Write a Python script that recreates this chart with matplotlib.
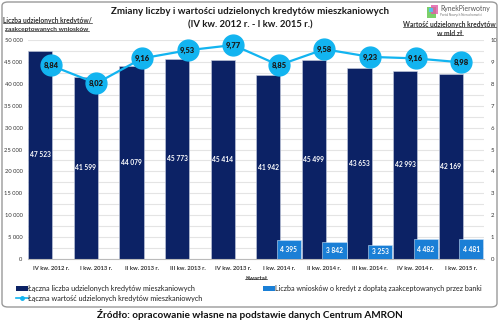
import matplotlib
matplotlib.use("Agg")
import matplotlib.pyplot as plt
from matplotlib.patches import FancyBboxPatch, Rectangle
from matplotlib.lines import Line2D
import numpy as np

plt.rcParams["font.family"] = ["Lato", "DejaVu Sans"]

categories = ["IV kw. 2012 r.", "I kw. 2013 r.", "II kw. 2013 r.", "III kw. 2013 r.", "IV kw. 2013 r.",
              "I kw. 2014 r.", "II kw. 2014 r.", "III kw. 2014 r.", "IV kw. 2014 r.", "I kw. 2015 r."]
total_count = [47523, 41599, 44079, 45773, 45414, 41942, 45499, 43653, 42993, 42169]
subsidy_count = [None, None, None, None, None, 4395, 3842, 3253, 4482, 4481]
total_value = [8.84, 8.02, 9.16, 9.53, 9.77, 8.85, 9.58, 9.23, 9.16, 8.98]

NAVY = "#0c2265"
BLUE = "#1a7fd6"
LINE = "#12b4f0"
W, H = 500, 322

def fmt(v):
    return f"{v:,}".replace(",", " ")

fig = plt.figure(figsize=(5.0, 3.22), dpi=100)
fig.patch.set_facecolor("white")
renderer = fig.canvas.get_renderer()

def fit_size(s, target_px, **kw):
    t = fig.text(0, 0, s, fontsize=10, **kw)
    bb = t.get_window_extent(renderer)
    t.remove()
    return 10 * target_px / bb.width

def ftext(xp, yp, s, width_px, ha="left", **kw):
    fs = fit_size(s, width_px, **kw)
    return fig.text(xp / W, 1 - yp / H, s, ha=ha, va="center", fontsize=fs, **kw)

# outer rounded border
border = FancyBboxPatch((2 / W, 1 - 307 / H), 495 / W, 305 / H, boxstyle="round,pad=0,rounding_size=0.012",
                        transform=fig.transFigure, fill=False, edgecolor="#9a9a9a", linewidth=1.0)
fig.patches.append(border)

ax = fig.add_axes([28 / W, 1 - 259 / H, 456 / W, 219 / H])
x = np.arange(len(categories))
w = 0.53
bar_fs = fit_size(fmt(total_count[0]), 21, fontweight="bold")
ax.bar(x - 0.23, total_count, width=w, color=NAVY, edgecolor="#c8cfe0", linewidth=0.4, zorder=2)
for xi, v in zip(x, total_count):
    ax.text(xi - 0.23, v / 2, fmt(v), ha="center", va="center", color="white",
            fontsize=bar_fs, fontweight="bold", zorder=5)

sx = [xi for xi, v in zip(x, subsidy_count) if v is not None]
sv = [v for v in subsidy_count if v is not None]
ax.bar(np.array(sx) + 0.22, sv, width=w, color=BLUE, edgecolor="#c8e0f5", linewidth=0.4, zorder=3)
for xi, v in zip(sx, sv):
    ax.text(xi + 0.22, v / 2, fmt(v), ha="center", va="center", color="white",
            fontsize=bar_fs, fontweight="bold", zorder=5)

xt_fs = fit_size(categories[0], 37, fontweight="bold")
yt_fs = fit_size("50 000", 18)

ax.set_ylim(0, 50000)
ax.set_xlim(-0.5, len(categories) - 0.5)
yt = np.arange(0, 50001, 5000)
ax.set_yticks(yt)
ax.set_yticklabels([fmt(int(t)) for t in yt], color="#333333")
ax.set_yticks(np.arange(0, 50001, 2500), minor=True)
ax.grid(axis="y", which="both", color="#e4e4e4", linewidth=0.8, zorder=0)
ax.tick_params(axis="y", which="both", length=0, pad=4, labelsize=yt_fs)
ax.set_xticks(x)
ax.set_xticklabels(categories, fontweight="bold", color="#333333")
ax.tick_params(axis="x", length=0, pad=5, labelsize=xt_fs)
for s in ["top", "right", "left"]:
    ax.spines[s].set_visible(False)
ax.spines["bottom"].set_color("#bbbbbb")
ax.set_axisbelow(True)

ax2 = ax.twinx()
ax2.set_ylim(0, 10)
ax2.set_yticks(range(0, 11))
ax2.set_yticklabels([str(t) for t in range(0, 11)], color="#333333")
ax2.tick_params(axis="y", length=0, pad=5, labelsize=yt_fs * 1.05)
for s in ["top", "right", "left", "bottom"]:
    ax2.spines[s].set_visible(False)
ax2.plot(x, total_value, color=LINE, linewidth=1.6, marker="o", markersize=15,
         markerfacecolor=LINE, markeredgecolor=LINE, zorder=4, clip_on=False)
val_fs = fit_size("8,84", 15, fontweight="heavy")
for xi, v in zip(x, total_value):
    ax2.text(xi, v, f"{v:.2f}".replace(".", ","), ha="center", va="center",
             fontsize=val_fs, fontweight="heavy", color="#1a1a1a", zorder=6)

# titles
ftext(250, 12, "Zmiany liczby i wartości udzielonych kredytów mieszkaniowych", 278, ha="center",
      fontweight="bold", color="#1a1a1a")
ftext(250, 25, "(IV kw. 2012 r. - I kw. 2015 r.)", 126, ha="center",
      fontweight="bold", color="#1a1a1a")

under = []
under.append(ftext(3, 21, "Liczba udzielonych kredytów/", 89, fontweight="bold", color="#333333"))
under.append(ftext(47, 29.5, "zaakceptowanych wniosków", 83, ha="center", fontweight="bold", color="#333333"))
under.append(ftext(496, 25, "Wartość udzielonych kredytów", 92, ha="right", fontweight="bold", color="#333333"))
under.append(ftext(450, 33, "w mld zł", 25, ha="center", fontweight="bold", color="#333333"))
under.append(ftext(256, 278, "Kwartał", 22, ha="center", fontweight="bold", color="#333333"))
for t in under:
    bb = t.get_window_extent(renderer).transformed(fig.transFigure.inverted())
    fig.add_artist(Line2D([bb.x0, bb.x1], [bb.y0 + 0.004, bb.y0 + 0.004],
                          transform=fig.transFigure, color="#333333", linewidth=0.5))

# logo
fig.patches.append(Rectangle(((427) / W, 1 - 18 / H), 9 / W, 11 / H, transform=fig.transFigure,
                             facecolor="#7ccf6a", edgecolor="none"))
fig.patches.append(Rectangle(((431) / W, 1 - 14 / H), 7 / W, 9 / H, transform=fig.transFigure,
                             facecolor="#e35aa8", edgecolor="none", alpha=0.8))
fig.patches.append(Rectangle(((429) / W, 1 - 12 / H), 4 / W, 4 / H, transform=fig.transFigure,
                             facecolor="#4fc3f7", edgecolor="none", alpha=0.9))
ftext(440, 9, "RynekPierwotny", 50, color="#555555")
ftext(440, 15, "Portal Nowych Nieruchomości", 42, color="#777777")

# legend
fig.patches.append(Rectangle((16 / W, 1 - 291 / H), 12 / W, 5 / H, transform=fig.transFigure,
                             facecolor=NAVY, edgecolor="none"))
ftext(28, 288, "Łączna liczba udzielonych kredytów mieszkaniowych", 167, color="#222222")
fig.patches.append(Rectangle((263 / W, 1 - 291 / H), 12 / W, 5 / H, transform=fig.transFigure,
                             facecolor=BLUE, edgecolor="none"))
ftext(275, 288, "Liczba wniosków o kredyt z dopłatą zaakceptowanych przez banki", 208, color="#222222")
fig.add_artist(Line2D([16 / W, 28 / W], [1 - 298 / H, 1 - 298 / H], transform=fig.transFigure,
                      color=LINE, linewidth=1.2))
fig.add_artist(Line2D([22 / W], [1 - 298 / H], transform=fig.transFigure, color=LINE, marker="o",
                      markersize=2.5))
ftext(28, 298, "Łączna wartość udzielonych kredytów mieszkaniowych", 176, color="#222222")

ftext(250, 314, "Źródło: opracowanie własne na podstawie danych Centrum AMRON", 305, ha="center",
      fontweight="bold", color="#111111")

fig.savefig("out.png", dpi=100, facecolor="white")
